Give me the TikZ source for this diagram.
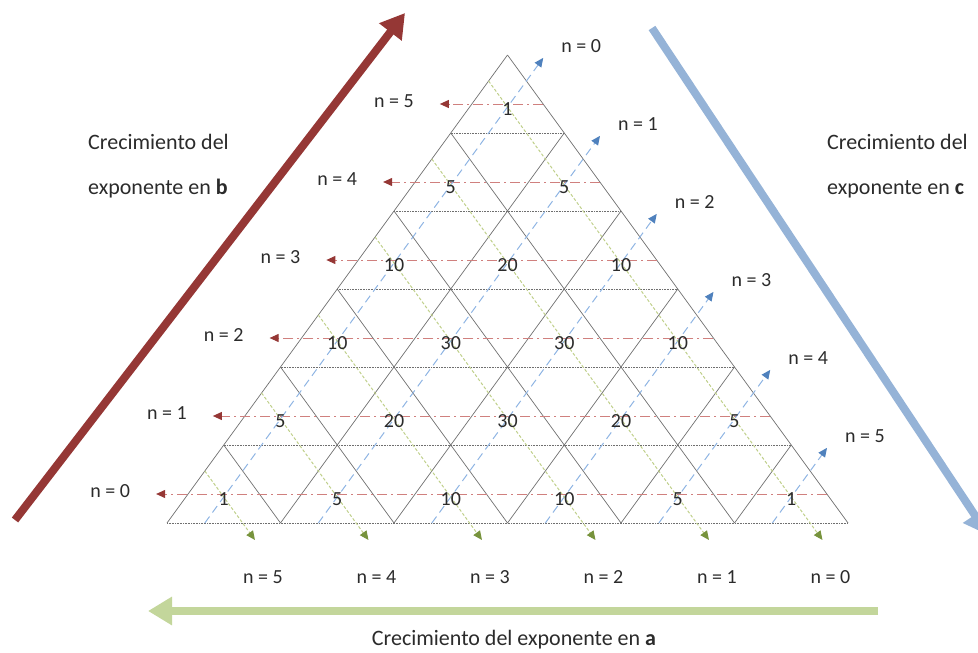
\documentclass[tikz,border=0pt]{standalone}
\usepackage{fontspec}
\setmainfont{Carlito}
\usetikzlibrary{arrows.meta}
\definecolor{bigred}{HTML}{953735}
\definecolor{bigblue}{HTML}{95B3D7}
\definecolor{biggreen}{HTML}{C3D69B}
\definecolor{redln}{HTML}{D0807E}
\definecolor{redtip}{HTML}{953735}
\definecolor{blueln}{HTML}{8EB4E3}
\definecolor{bluetip}{HTML}{4F81BD}
\definecolor{grnln}{HTML}{BFCF8A}
\definecolor{grntip}{HTML}{77933C}
\definecolor{gridc}{HTML}{6F6F6F}
\definecolor{txt}{HTML}{2B2B2B}
\begin{document}
\begin{tikzpicture}[x=1pt,y=-1pt,
  gridl/.style={draw=gridc,line width=0.7pt},
  gridh/.style={draw=gridc,line width=0.9pt,dash pattern=on 1pt off 0.6pt},
  redl/.style={draw=redln,line width=1pt,dash pattern=on 10pt off 4pt on 2pt off 4pt,-{Triangle[length=9pt,width=8pt,color=redtip]}},
  bluel/.style={draw=blueln,line width=1pt,dash pattern=on 8pt off 5pt,-{Triangle[length=9pt,width=8pt,color=bluetip]}},
  grnl/.style={draw=grnln,line width=1pt,dash pattern=on 3pt off 2pt,-{Triangle[length=9pt,width=8pt,color=grntip]}},
  nlab/.style={font=\fontsize{20}{20}\selectfont,text=txt,inner sep=0pt},
  num/.style={font=\fontsize{20}{20}\selectfont,text=txt,inner sep=0pt},
  title/.style={font=\fontsize{22}{45}\selectfont,text=txt,align=left,inner sep=0pt},
  bigarrow/.style={line width=8pt,-{Triangle[length=24pt,width=27pt]}}
]
\useasboundingbox (0,0) rectangle (978,653);
\clip (0,0) rectangle (978,653);
% grid points
\foreach \r in {0,...,6}{
  \foreach \i in {0,...,\r}{
    \coordinate (P\r-\i) at ({507.5+(\i-\r/2)*113.5},{55+78*\r});
  }
}
% horizontal grid lines
\foreach \r in {1,...,6}{\draw[gridh] (P\r-0) -- (P\r-\r);}
% lines parallel to left edge
\foreach \i in {0,...,5}{\draw[gridl] (P6-\i) -- (P\i-\i);}
% lines parallel to right edge
\foreach \c in {0,...,5}{
  \pgfmathtruncatemacro\ee{6-\c}
  \draw[gridl] (P6-\ee) -- (P\c-0);
}
% red dash-dot arrows (exponent of b)
\foreach \k in {0,...,5}{
  \pgfmathsetmacro\yy{104+78*\k}
  \pgfmathsetmacro\xr{507.5+(\yy-55)*0.72756}
  \pgfmathsetmacro\xl{507.5-(\yy-55)*0.72756-32}
  \pgfmathtruncatemacro\nn{5-\k}
  \coordinate (Rs\k) at (\xr,\yy);
  \coordinate (Re\k) at (\xl,\yy);
  \draw[redl] (Rs\k) -- (Re\k);
  \node[nlab,anchor=east] (Rl\k) at ([xshift=-26pt,yshift=3pt]Re\k) {n = \nn};
}
% blue dashed arrows (exponent of c)
\foreach \j in {0,...,5}{
  \pgfmathsetmacro\xs{507.5+(\j-2.6667)*113.5}
  \pgfmathsetmacro\ye{107+78*(\j-0.63)}
  \pgfmathsetmacro\xe{507.5+(\j/2+0.315)*113.5}
  \coordinate (Bs\j) at (\xs,523);
  \coordinate (Be\j) at (\xe,\ye);
  \draw[bluel] (Bs\j) -- (Be\j);
  \node[nlab,anchor=west] (Bl\j) at ([xshift=18pt,yshift=12pt]Be\j) {n = \j};
}
% green dotted arrows (exponent of a)
\foreach \m in {0,...,5}{
  \pgfmathsetmacro\ys{81+78*\m}
  \pgfmathsetmacro\xs{507.5+(-\m/2-0.16667)*113.5}
  \pgfmathsetmacro\xe{507.5+(2.775-\m)*113.5}
  \coordinate (Gs\m) at (\xs,\ys);
  \coordinate (Ge\m) at (\xe,540);
  \draw[grnl] (Gs\m) -- (Ge\m);
  \node[nlab] (Gl\m) at ([xshift=8pt,yshift=-37pt]Ge\m) {n = \m};
}
% coefficients
\foreach \k/\vals in {0/{1},1/{5,5},2/{10,20,10},3/{10,30,30,10},4/{5,20,30,20,5},5/{1,5,10,10,5,1}}{
  \foreach \v [count=\jj from 0] in \vals {
    \node[num] (N\k-\jj) at ({507.5+(\jj-\k/2)*113.5},{109+78*\k}) {\v};
  }
}
% big arrows
\coordinate (RA0) at (15,520);
\coordinate (RA1) at (405,13);
\draw[bigarrow,draw=bigred,fill=bigred] (RA0) -- (RA1);
\coordinate (BA0) at (652,28);
\coordinate (BA1) at (988,535);
\draw[bigarrow,draw=bigblue,fill=bigblue] (BA0) -- (BA1);
\coordinate (GA0) at (878,611);
\coordinate (GA1) at (148,611);
\draw[bigarrow,draw=biggreen,fill=biggreen] (GA0) -- (GA1);
% titles
\node[title,anchor=west] (TB) at (88,166) {Crecimiento del\\exponente en \textbf{b}};
\node[title,anchor=west] (TC) at (827,166) {Crecimiento del\\exponente en \textbf{c}};
\node[title] (TA) at (514,640) {Crecimiento del exponente en \textbf{a}};
\end{tikzpicture}
\end{document}
